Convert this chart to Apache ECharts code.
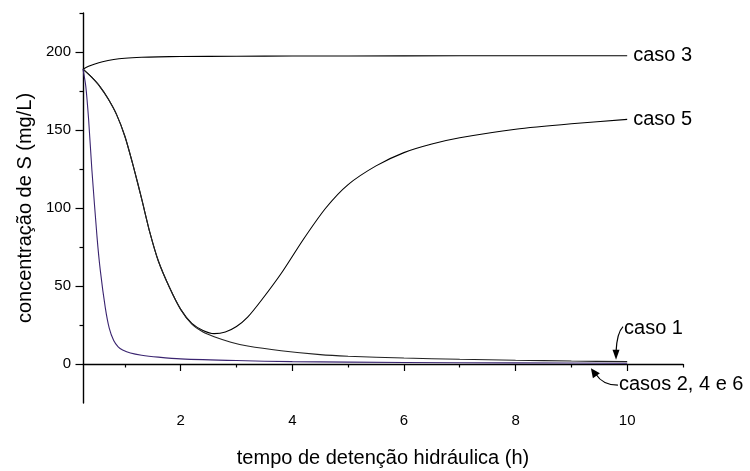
<!DOCTYPE html>
<html>
<head>
<meta charset="utf-8">
<script src="https://cdn.jsdelivr.net/npm/echarts@6/dist/echarts.min.js"></script>
<style>
  html, body { margin: 0; padding: 0; background: #fff; }
  #chart { width: 750px; height: 471px; }
</style>
</head>
<body>
<div id="chart"></div>
<script>
// valores
const caso3X = [0.25, 0.35, 0.45, 0.6, 0.8, 1.0, 1.3, 1.6, 2, 3, 4, 6, 8, 10];
const caso3Y = [189, 190.8, 192.2, 193.8, 195.2, 196, 196.6, 196.9, 197.1, 197.3, 197.4, 197.5, 197.6, 197.6];

const caso5X = [0.25, 0.4, 0.55, 0.7, 0.85, 1.0, 1.15, 1.3, 1.45, 1.6, 1.8, 2.0, 2.2, 2.4, 2.6, 2.8, 3.0, 3.2, 3.45, 3.8, 4.2, 4.6, 5, 5.5, 6, 6.5, 7, 8, 9, 10];
const caso5Y = [189, 184, 178, 170, 160, 146, 127, 106, 84, 66, 49, 35, 26, 21.5, 19.5, 20.5, 24, 30, 41, 58, 80, 100, 115, 127, 135.5, 141, 145, 150.5, 154, 156.8];

const caso1X = [0.25, 0.4, 0.55, 0.7, 0.85, 1.0, 1.15, 1.3, 1.45, 1.6, 1.8, 2.0, 2.2, 2.4, 2.6, 2.9, 3.2, 3.8, 4.5, 5, 6, 7, 8, 9, 10];
const caso1Y = [189, 184, 178, 170, 160, 146, 127, 106, 84, 66, 49, 35, 25.5, 20.5, 17.5, 14, 11.5, 8.5, 6, 5, 3.8, 3, 2.4, 1.9, 1.5];

const casos246X = [0.25, 0.3, 0.35, 0.41, 0.5, 0.56, 0.65, 0.72, 0.8, 0.88, 0.96, 1.1, 1.3, 1.6, 2, 3, 4, 6, 8, 10];
const casos246Y = [189, 178, 157, 124, 82, 60, 36, 23, 15, 11, 9, 7, 5.6, 4.4, 3.3, 2.2, 1.5, 1, 0.7, 0.5];

const xMajor = [2, 4, 6, 8, 10];
const xMinor = [1, 3, 5, 7, 9, 11];
const yMajor = [0, 50, 100, 150, 200];
const yMinor = [25, 75, 125, 175, 225];

const FONT = 'Liberation Sans, Arial, sans-serif';

function pares(xs, ys) {
  return xs.map((x, i) => [x, ys[i]]);
}

function linha(nome, xs, ys, cor, rotulo) {
  return {
    name: nome,
    type: 'line',
    xAxisIndex: 0,
    yAxisIndex: 0,
    data: pares(xs, ys),
    smooth: 0.25,
    showSymbol: false,
    lineStyle: { color: cor, width: 1.1 },
    endLabel: {
      show: rotulo,
      formatter: nome,
      color: '#000',
      fontFamily: FONT,
      fontSize: 20,
      distance: 6
    },
    animation: false
  };
}

const chart = echarts.init(document.getElementById('chart'));

const eixoX = {
  type: 'value',
  min: 0.25,
  max: 11,
  position: 'bottom',
  splitLine: { show: false }
};
const eixoY = {
  type: 'value',
  min: -25,
  max: 225,
  position: 'left',
  splitLine: { show: false }
};

chart.setOption({
  animation: false,
  grid: { left: 83, right: 67, top: 13, bottom: 68, outerBoundsMode: 'none', containLabel: false },
  xAxis: [
    Object.assign({}, eixoX, {
      name: 'tempo de detenção hidráulica (h)',
      nameLocation: 'middle',
      nameGap: 45,
      nameTextStyle: { color: '#000', fontFamily: FONT, fontSize: 20 },
      axisLine: { lineStyle: { color: '#000', width: 1.4 } },
      axisTick: { inside: false, length: 7, customValues: xMajor, lineStyle: { color: '#000', width: 1.2 } },
      axisLabel: { customValues: xMajor, color: '#000', fontFamily: FONT, fontSize: 15, margin: 10 }
    }),
    Object.assign({}, eixoX, {
      axisLine: { show: false },
      axisTick: { inside: false, length: 3.5, customValues: xMinor, lineStyle: { color: '#000', width: 1.2 } },
      axisLabel: { show: false }
    })
  ],
  yAxis: [
    Object.assign({}, eixoY, {
      name: 'concentração de S (mg/L)',
      nameLocation: 'middle',
      nameGap: 39,
      nameTextStyle: { color: '#000', fontFamily: FONT, fontSize: 20 },
      axisLine: { lineStyle: { color: '#000', width: 1.4 } },
      axisTick: { inside: false, length: 7.5, customValues: yMajor, lineStyle: { color: '#000', width: 1.2 } },
      axisLabel: { customValues: yMajor, color: '#000', fontFamily: FONT, fontSize: 15, margin: 12 }
    }),
    Object.assign({}, eixoY, {
      axisLine: { show: false },
      axisTick: { inside: false, length: 3.5, customValues: yMinor, lineStyle: { color: '#000', width: 1.2 } },
      axisLabel: { show: false }
    })
  ],
  series: [
    linha('caso 3', caso3X, caso3Y, '#000', true),
    linha('caso 5', caso5X, caso5Y, '#000', true),
    linha('caso 1', caso1X, caso1Y, '#222', false),
    linha('casos 2, 4 e 6', casos246X, casos246Y, '#3a2470', false)
  ]
});

// setas e rótulos de caso 1 e casos 2, 4 e 6, ancorados nos dados
const ref = { xAxisIndex: 0, yAxisIndex: 0 };
const p1 = chart.convertToPixel(ref, [9.8, 1.5]);
const p2 = chart.convertToPixel(ref, [9.35, 0.5]);
const t1 = [p1[0], p1[1] - 2];
const t2 = [p2[0], p2[1] + 5];

chart.setOption({
  graphic: [
    {
      type: 'text', left: t1[0] + 8, top: t1[1] - 41,
      style: { text: 'caso 1', fill: '#000', font: '20px ' + FONT }
    },
    {
      type: 'bezierCurve',
      shape: { x1: t1[0] + 7, y1: t1[1] - 33, cpx1: t1[0] + 1, cpy1: t1[1] - 27, x2: t1[0], y2: t1[1] - 8 },
      style: { stroke: '#000', lineWidth: 1.2, fill: null }
    },
    {
      type: 'polygon',
      shape: { points: [[t1[0], t1[1]], [t1[0] - 3.5, t1[1] - 10], [t1[0] + 3.5, t1[1] - 10]] },
      style: { fill: '#000' }
    },
    {
      type: 'text', left: t2[0] + 28, top: t2[1] + 6,
      style: { text: 'casos 2, 4 e 6', fill: '#000', font: '20px ' + FONT }
    },
    {
      type: 'bezierCurve',
      shape: { x1: t2[0] + 27, y1: t2[1] + 17, cpx1: t2[0] + 12, cpy1: t2[1] + 17, x2: t2[0] + 5, y2: t2[1] + 6 },
      style: { stroke: '#000', lineWidth: 1.2, fill: null }
    },
    {
      type: 'polygon',
      shape: { points: [[t2[0], t2[1]], [t2[0] + 9, t2[1] + 5], [t2[0] + 2, t2[1] + 10]] },
      style: { fill: '#000' }
    }
  ]
});
</script>
</body>
</html>
